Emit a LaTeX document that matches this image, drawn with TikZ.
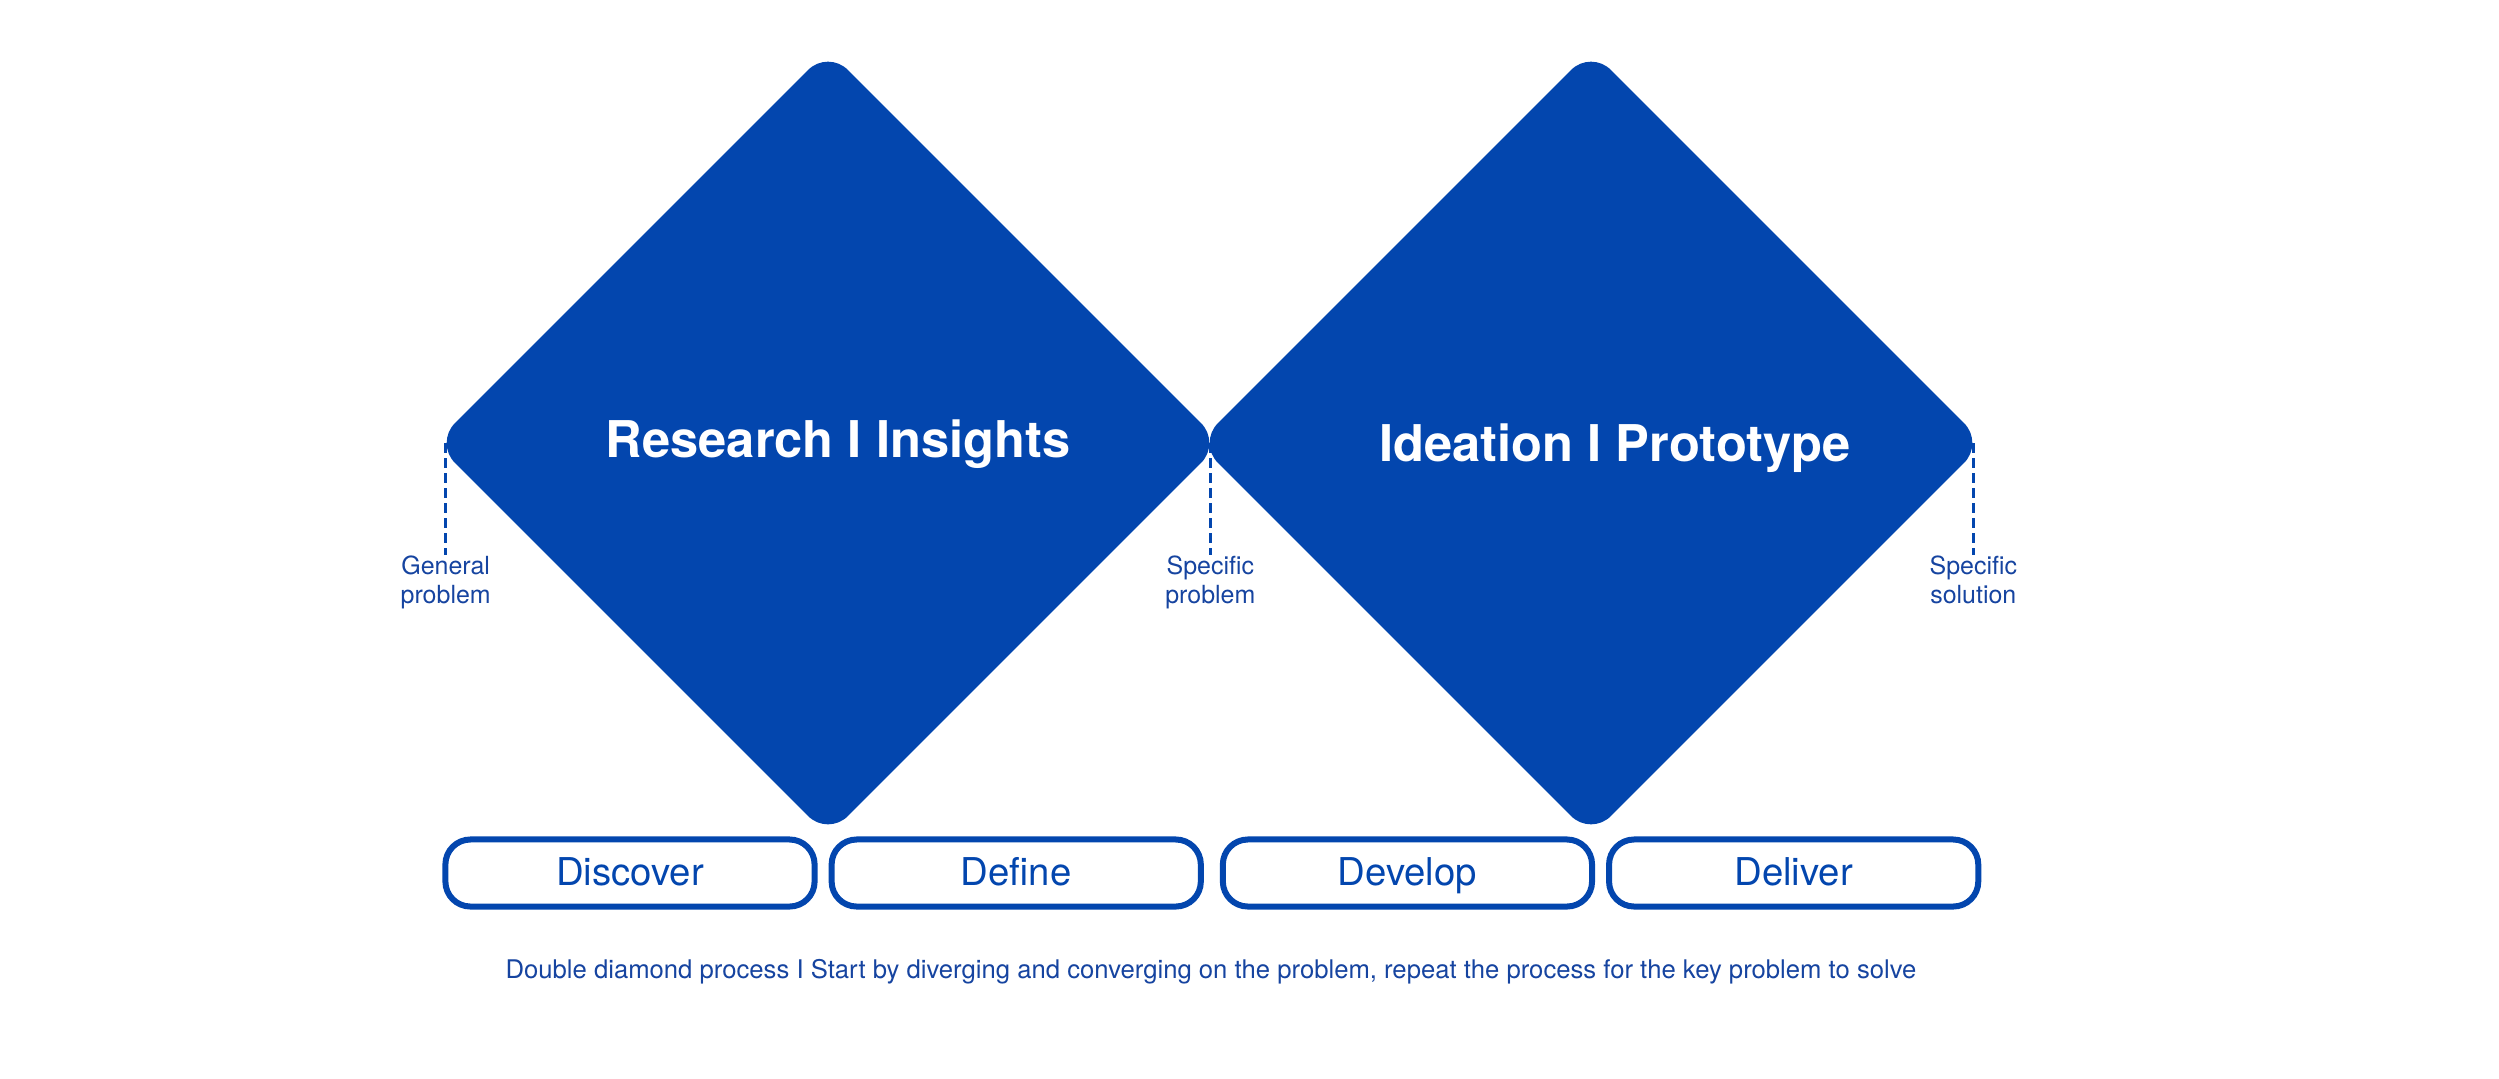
\documentclass[tikz,border=0pt]{standalone}
\usepackage{fontspec}
\setmainfont{TeX Gyre Heros}
\usetikzlibrary{positioning,shapes.geometric}
\definecolor{ddblue}{RGB}{3,70,174}
\definecolor{ddtext}{RGB}{22,68,160}

\begin{document}
\begin{tikzpicture}[
    x=0.01cm, y=-0.01cm,
    bigdiamond/.style={
      diamond, aspect=1, fill=ddblue, draw=none, inner sep=0pt,
      minimum size=7.86cm, rounded corners=0.28cm
    },
    phasetitle/.style={
      anchor=base, text=white, inner sep=0pt,
      font=\fontsize{14.4}{17}\selectfont\bfseries
    },
    phasebox/.style={
      rectangle, rounded corners=0.25cm, draw=ddblue, line width=0.06cm,
      minimum width=3.69cm, minimum height=0.67cm, inner sep=0pt,
      text height=0.72em, text depth=0pt,
      text=ddblue, font=\fontsize{10.9}{13}\selectfont
    },
    marker/.style={
      ddblue, line width=0.035cm, dash pattern=on 0.1cm off 0.05cm
    },
    markerlabel/.style={
      anchor=north, inner sep=0pt, align=center, text=ddtext,
      font=\fontsize{7.1}{8.25}\selectfont
    }
  ]
  \useasboundingbox (0,0) rectangle (2499,1078);

  % --- Diamonds ---
  \node[bigdiamond] (D1) at (828,443) {};
  \node[bigdiamond] (D2) at (1591,443) {};
  \node[phasetitle] (T1) at (838,457) {Research I Insights};
  \node[phasetitle] (T2) at (1615,461) {Ideation I Prototype};

  % --- Start and end points ---
  \coordinate (genTip) at ([xshift=0.116cm]D1.west);
  \coordinate (speTip) at ([xshift=-0.116cm]D1.east);
  \coordinate (solTip) at ([xshift=-0.116cm]D2.east);

  \node[markerlabel, below=1.12cm of genTip] (GP) {General\\problem};
  \node[markerlabel, below=1.12cm of speTip] (SP) {Specific\\problem};
  \node[markerlabel, below=1.12cm of solTip] (SS) {Specific\\solution};

  \draw[marker] (genTip) -- (GP.north);
  \draw[marker] (speTip) -- (SP.north);
  \draw[marker] (solTip) -- (SS.north);

  % --- Phases ---
  \node[phasebox] (Discover) at (630,873) {Discover};
  \node[phasebox, right=0.11cm of Discover] (Define) {Define};
  \node[phasebox, right=0.16cm of Define] (Develop) {Develop};
  \node[phasebox, right=0.11cm of Develop] (Deliver) {Deliver};

  \node[text=ddtext, font=\fontsize{7.3}{9}\selectfont, inner sep=0pt] (Caption) at (1211,972)
    {Double diamond process I Start by diverging and converging on the problem, repeat the process for the key problem to solve};
\end{tikzpicture}
\end{document}
